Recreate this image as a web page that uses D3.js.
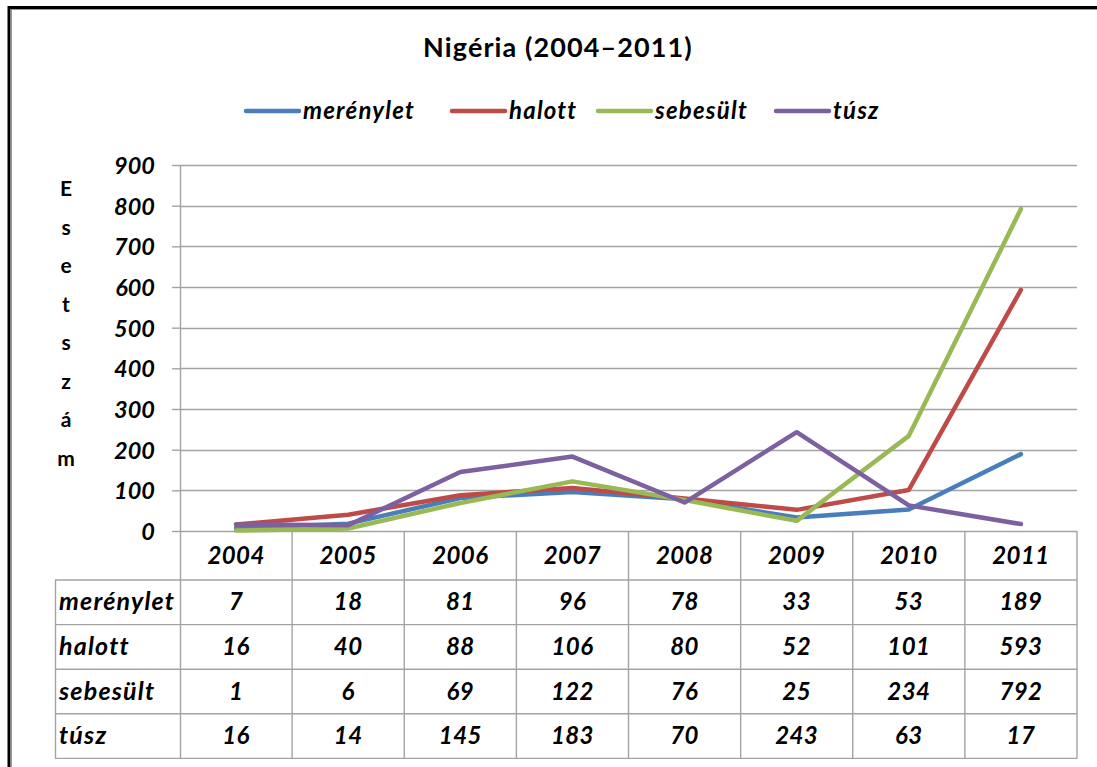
<!DOCTYPE html>
<html>
<head>
<meta charset="utf-8">
<script src="https://cdn.jsdelivr.net/npm/d3@7"></script>
<style>
  html, body { margin: 0; padding: 0; background: #fff; }
  svg { display: block; }
  text { font-family: Lato, "Open Sans", sans-serif; }
</style>
</head>
<body>
<svg id="chart" width="1097" height="767"></svg>
<script>
// ---- data ----
const years = ["2004", "2005", "2006", "2007", "2008", "2009", "2010", "2011"];
const seriesNames = ["merénylet", "halott", "sebesült", "túsz"];
const merenylet = [7, 18, 81, 96, 78, 33, 53, 189];
const halott = [16, 40, 88, 106, 80, 52, 101, 593];
const sebesult = [1, 6, 69, 122, 76, 25, 234, 792];
const tusz = [16, 14, 145, 183, 70, 243, 63, 17];
const yTicks = [0, 100, 200, 300, 400, 500, 600, 700, 800, 900];
const colors = ["#4a7ebb", "#be4b48", "#98b954", "#7d60a0"];
const title = "Nigéria (2004–2011)";
const yLabel = "Esetszám";

const seriesValues = [merenylet, halott, sebesult, tusz];

// ---- layout ----
const svg = d3.select("#chart");
const plotLeft = 180, plotRight = 1077, plotTop = 165, plotBottom = 531;
const tableLeft = 55;
const headerBottom = 580;
const rowH = 44.6;
const gridColor = "#a3a3a3";

const x = d3.scaleBand().domain(years).range([plotLeft, plotRight]);
const y = d3.scaleLinear().domain([0, 900]).range([plotBottom, plotTop]);

// outer border (top and left)
svg.append("line").attr("x1", 8).attr("x2", 1097).attr("y1", 7.5).attr("y2", 7.5)
  .attr("stroke", "#000").attr("stroke-width", 3);
svg.append("line").attr("x1", 11).attr("x2", 1097).attr("y1", 9.5).attr("y2", 9.5)
  .attr("stroke", "#999").attr("stroke-width", 1);
svg.append("line").attr("x1", 9).attr("x2", 9).attr("y1", 6).attr("y2", 767)
  .attr("stroke", "#000").attr("stroke-width", 3);
svg.append("line").attr("x1", 11.5).attr("x2", 11.5).attr("y1", 9).attr("y2", 767)
  .attr("stroke", "#999").attr("stroke-width", 1);

// title
svg.append("text").attr("x", 558).attr("y", 57).attr("text-anchor", "middle")
  .attr("font-size", 27).attr("font-weight", "bold").attr("letter-spacing", 1.1)
  .attr("fill", "#000").text(title);

// legend
const legendX = [246, 452, 598, 776];
seriesNames.forEach((name, i) => {
  const g = svg.append("g").attr("transform", `translate(${legendX[i]},111)`);
  g.append("line").attr("x1", 0).attr("x2", 53).attr("y1", 0).attr("y2", 0)
    .attr("stroke", colors[i]).attr("stroke-width", 4.5).attr("stroke-linecap", "round");
  g.append("text").attr("x", 57).attr("y", 8).attr("font-size", 24)
    .attr("letter-spacing", 1.2)
    .attr("font-weight", "bold").attr("font-style", "italic").text(name);
});

// y label: stacked letters
const letters = Array.from(yLabel);
letters.forEach((ch, i) => {
  svg.append("text").attr("x", 66).attr("y", 196 + i * 38.5).attr("text-anchor", "middle")
    .attr("font-size", 21).attr("font-weight", "bold").text(ch);
});

// gridlines
svg.append("g").selectAll("line").data(yTicks.filter(d => d > 0)).join("line")
  .attr("x1", plotLeft).attr("x2", plotRight)
  .attr("y1", d => Math.round(y(d)) + 0.5).attr("y2", d => Math.round(y(d)) + 0.5)
  .attr("stroke", gridColor).attr("stroke-width", 1.4);

// y axis
const yAxis = svg.append("g").attr("transform", `translate(${plotLeft},0)`)
  .call(d3.axisLeft(y).tickValues(yTicks).tickSize(8).tickPadding(17).tickFormat(d3.format("d")));
yAxis.select(".domain").remove();
yAxis.selectAll(".tick line").attr("stroke", gridColor).attr("stroke-width", 1.4);
yAxis.selectAll(".tick text").attr("font-size", 23.5).attr("font-weight", "bold")
  .attr("font-style", "italic").attr("fill", "#000").attr("font-family", "Lato, sans-serif")
  .attr("dy", "0.36em");

// table grid
const tableBottom = headerBottom + rowH * 4;
const tg = svg.append("g").attr("stroke", gridColor).attr("stroke-width", 1.4);
// axis line (0 line)
tg.append("line").attr("x1", plotLeft).attr("x2", plotRight).attr("y1", plotBottom + 0.5).attr("y2", plotBottom + 0.5);
// vertical axis line through table
tg.append("line").attr("x1", plotLeft + 0.5).attr("x2", plotLeft + 0.5).attr("y1", plotTop).attr("y2", tableBottom);
// category boundaries
years.forEach((yr, i) => {
  const bx = x(yr) + x.bandwidth();
  tg.append("line").attr("x1", bx).attr("x2", bx).attr("y1", plotBottom).attr("y2", tableBottom);
});
// horizontal row lines
for (let r = 0; r <= 4; r++) {
  const ry = headerBottom + r * rowH;
  tg.append("line").attr("x1", tableLeft).attr("x2", plotRight).attr("y1", ry).attr("y2", ry);
}
// left border of label column
tg.append("line").attr("x1", tableLeft + 0.5).attr("x2", tableLeft + 0.5).attr("y1", headerBottom).attr("y2", tableBottom);

// header years
svg.append("g").selectAll("text").data(years).join("text")
  .attr("x", d => x(d) + x.bandwidth() / 2).attr("y", 564)
  .attr("text-anchor", "middle").attr("font-size", 24).attr("letter-spacing", 0.4)
  .attr("font-weight", "bold").attr("font-style", "italic").text(d => d);

// table rows
seriesNames.forEach((name, r) => {
  const cy = headerBottom + r * rowH + rowH / 2 + 8;
  svg.append("text").attr("x", 59).attr("y", cy).attr("font-size", 25).attr("letter-spacing", 1.2)
    .attr("font-weight", "bold").attr("font-style", "italic").text(name);
  svg.append("g").selectAll("text").data(seriesValues[r]).join("text")
    .attr("x", (d, i) => x(years[i]) + x.bandwidth() / 2).attr("y", cy)
    .attr("text-anchor", "middle").attr("font-size", 24).attr("letter-spacing", 0.4)
    .attr("font-weight", "bold").attr("font-style", "italic").text(d => d);
});

// lines
const line = d3.line().x((d, i) => x(years[i]) + x.bandwidth() / 2).y(d => y(d));
seriesValues.forEach((vals, i) => {
  svg.append("path").datum(vals).attr("d", line).attr("fill", "none")
    .attr("stroke", colors[i]).attr("stroke-width", 4.5)
    .attr("stroke-linejoin", "round").attr("stroke-linecap", "round");
});
</script>
</body>
</html>
